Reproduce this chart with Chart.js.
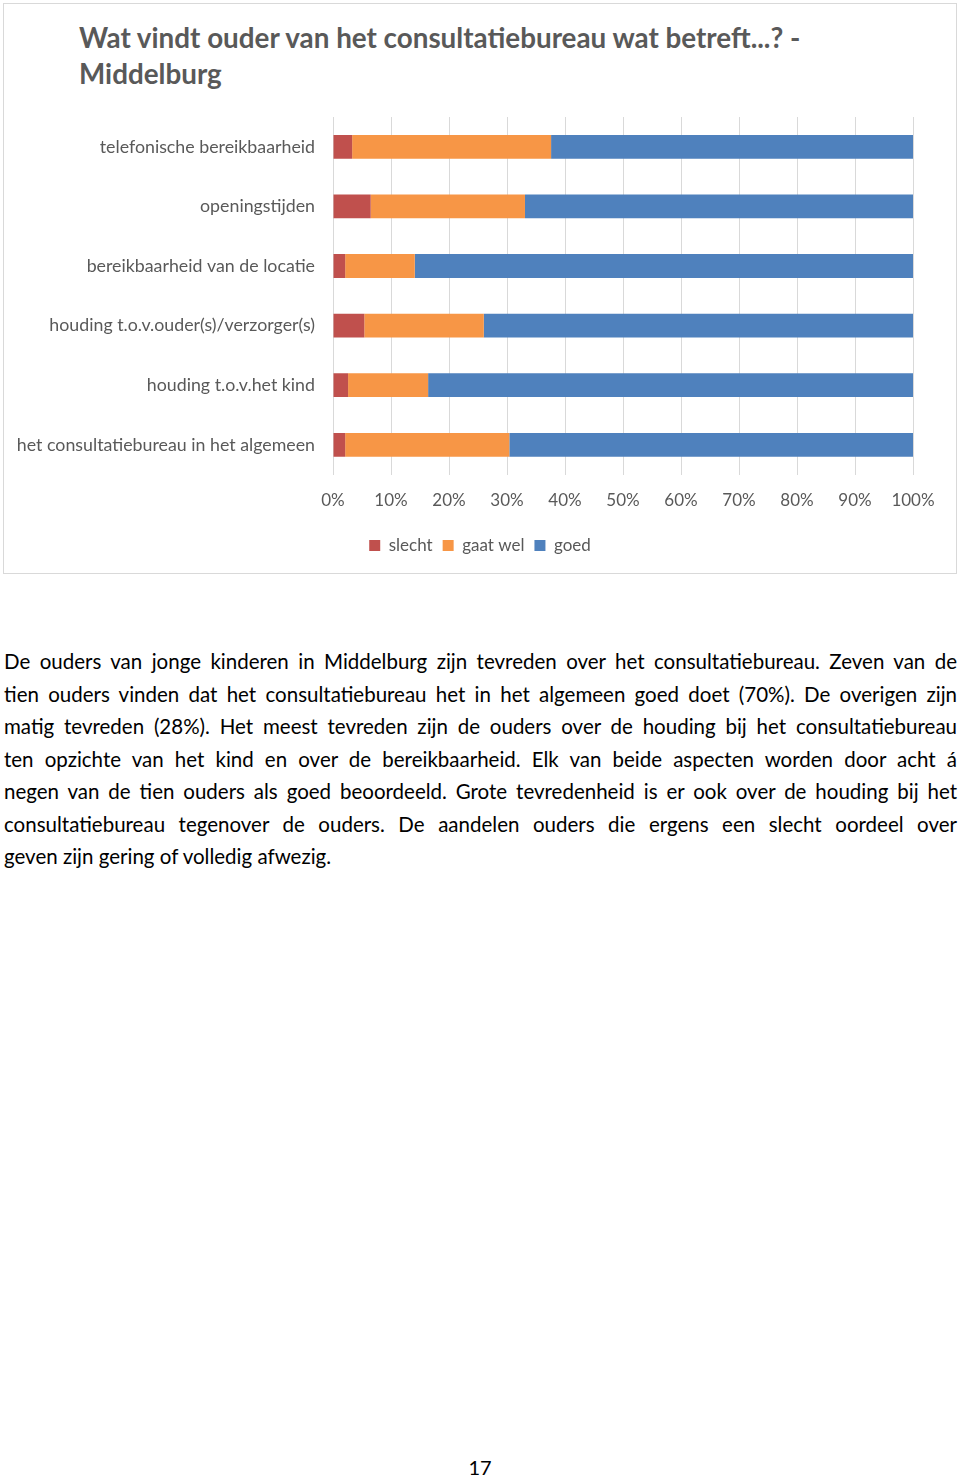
<!DOCTYPE html>
<html>
<head>
<meta charset="utf-8">
<script src="https://cdn.jsdelivr.net/npm/chart.js@4"></script>
<style>
  html, body { margin:0; padding:0; background:#fff; }
  body { width:960px; height:1480px; position:relative; font-family: Lato, "Open Sans", sans-serif; }
  #box { position:absolute; left:3px; top:3px; width:952px; height:569px; border:1px solid #d9d9d9; }
  #title { position:absolute; left:75px; top:16px; font-weight:bold; font-size:27.8px; line-height:36px; color:#595959; white-space:nowrap; }
  #cv { position:absolute; left:0; top:0; }
  #text { position:absolute; left:4px; top:645px; width:953px; font-size:20.5px; line-height:32.5px; color:#000; }
  #text div { text-align:justify; text-align-last:justify; }
  #text div.last { text-align-last:left; }
  #page { position:absolute; left:0; width:960px; top:1455px; text-align:center; font-size:20px; color:#000; }
</style>
</head>
<body>
<div id="box">
  <div id="title">Wat vindt ouder van het consultatiebureau wat betreft...? -<br>Middelburg</div>
  <div style="position:absolute;left:0;top:0;width:952px;height:569px;"><canvas id="cv"></canvas></div>
</div>
<div id="text">
  <div>De ouders van jonge kinderen in Middelburg zijn tevreden over het consultatiebureau. Zeven van de</div>
  <div>tien ouders vinden dat het consultatiebureau het in het algemeen goed doet (70%). De overigen zijn</div>
  <div>matig tevreden (28%). Het meest tevreden zijn de ouders over de houding bij het consultatiebureau</div>
  <div>ten opzichte van het kind en over de bereikbaarheid. Elk van beide aspecten worden door acht á</div>
  <div>negen van de tien ouders als goed beoordeeld. Grote tevredenheid is er ook over de houding bij het</div>
  <div>consultatiebureau tegenover de ouders. De aandelen ouders die ergens een slecht oordeel over</div>
  <div class="last">geven zijn gering of volledig afwezig.</div>
</div>
<div id="page">17</div>
<script>
const categories = [
  "telefonische bereikbaarheid",
  "openingstijden",
  "bereikbaarheid van de locatie",
  "houding t.o.v.ouder(s)/verzorger(s)",
  "houding t.o.v.het kind",
  "het consultatiebureau in het algemeen"
];
const slecht  = [3.3, 6.5, 2.1, 5.4, 2.6, 2.1];
const gaatWel = [34.3, 26.6, 12.0, 20.6, 13.8, 28.3];
const goed    = [62.4, 66.9, 85.9, 74.0, 83.6, 69.6];
const seriesNames = ["slecht", "gaat wel", "goed"];
const seriesColors = ["#c0504d", "#f79646", "#4f81bd"];

const textColor = "#595959";
const fontFam = "Lato, 'Open Sans', sans-serif";

new Chart(document.getElementById("cv"), {
  type: "bar",
  data: {
    labels: categories,
    datasets: [slecht, gaatWel, goed].map((d, i) => ({
      label: seriesNames[i],
      data: d,
      backgroundColor: seriesColors[i],
      borderWidth: 0,
      barPercentage: 0.4,
      categoryPercentage: 1
    }))
  },
  options: {
    indexAxis: "y",
    responsive: true,
    maintainAspectRatio: false,
    animation: false,
    layout: { padding: { top: 113, right: 0, bottom: 9, left: 0 } },
    scales: {
      x: {
        stacked: true,
        min: 0, max: 100,
        ticks: { stepSize: 10, callback: v => v + "%", color: textColor, font: { family: fontFam, size: 17 }, padding: 16 },
        grid: { color: "#d9d9d9", drawTicks: false, lineWidth: 1 },
        border: { display: false }
      },
      y: {
        stacked: true,
        ticks: { color: textColor, font: { family: fontFam, size: 17.8 }, padding: 18 },
        grid: { display: false, drawTicks: false },
        border: { display: false },
        afterFit: s => { s.width = 329; }
      },
      yRight: {
        position: "right",
        display: true,
        ticks: { display: false },
        grid: { display: false, drawTicks: false },
        border: { display: false },
        afterFit: s => { s.width = 43; }
      }
    },
    plugins: {
      legend: {
        position: "bottom",
        labels: { boxWidth: 11, boxHeight: 11, color: textColor, font: { family: fontFam, size: 17 }, padding: 10 }
      },
      tooltip: { enabled: false }
    }
  }
});
</script>
</body>
</html>
